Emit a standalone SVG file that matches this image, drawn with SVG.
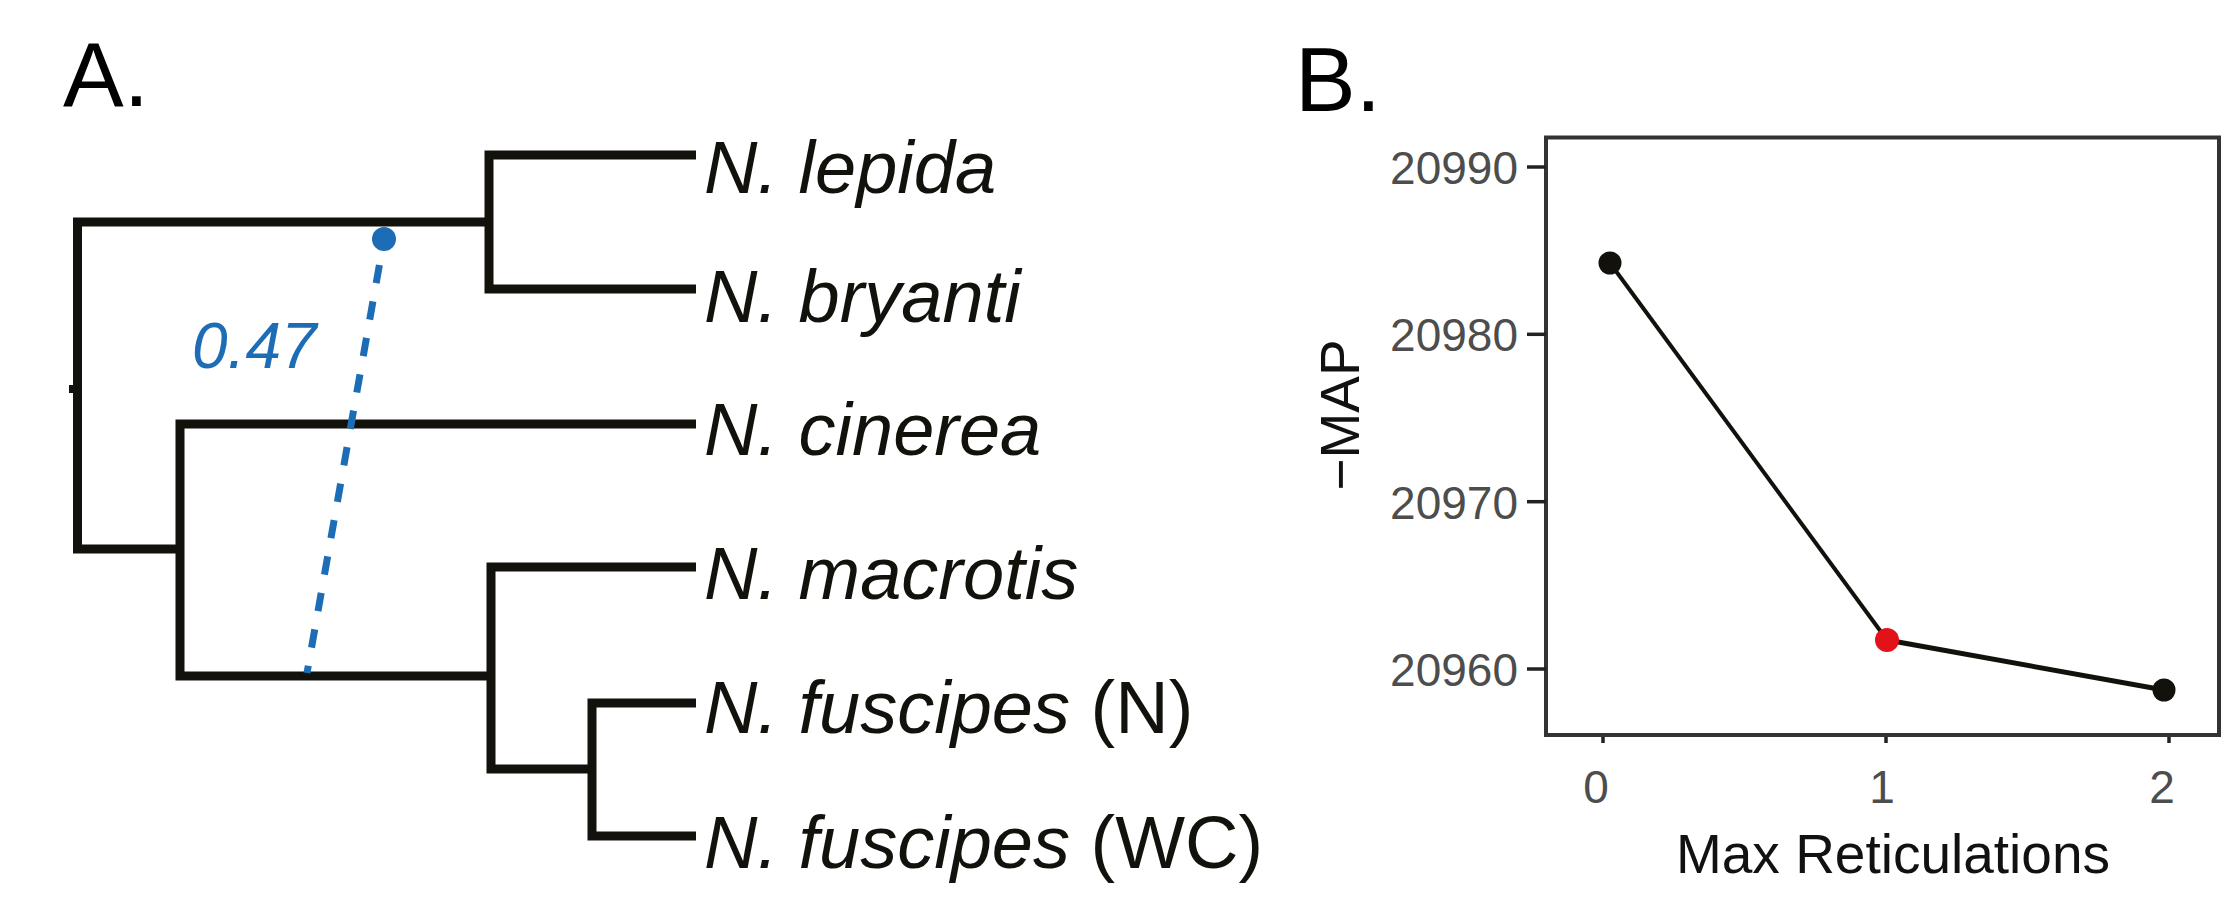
<svg xmlns="http://www.w3.org/2000/svg" width="2231" height="914" viewBox="0 0 2231 914">
<style>
.tree{fill:none;stroke:#12110c;stroke-width:9;stroke-linejoin:miter;stroke-linecap:butt}
.tip{font-family:"Liberation Sans",Arial,Helvetica,sans-serif;font-size:74px;fill:#12110c}
.it{font-style:italic}
.panel{font-family:"Liberation Sans",Arial,Helvetica,sans-serif;font-size:91px;fill:#000}
.tick{font-family:"Liberation Sans",Arial,Helvetica,sans-serif;font-size:46px;fill:#4d4d4d}
.axis{font-family:"Liberation Sans",Arial,Helvetica,sans-serif;font-size:55px;fill:#111}
.tk{stroke:#222;stroke-width:3.5}
</style>
<rect width="2231" height="914" fill="#fff"/>
<g id="panel-labels">
<text class="panel" x="63" y="106">A.</text>
<text class="panel" x="1295" y="111">B.</text>
</g>
<g id="tree-edges">
<path class="tree" d="M696,155 H489 V289 H696"/>
<path class="tree" d="M489,222 H77.5 V549 H180"/>
<path class="tree" d="M696,424 H180 V676 H491"/>
<path class="tree" d="M696,567 H491 V769 H592"/>
<path class="tree" d="M696,703 H592 V836 H696"/>
<rect x="69" y="385" width="6" height="8" fill="#12110c"/>
</g>
<g id="reticulation">
<line x1="379.4" y1="265" x2="307" y2="673" stroke="#1c6db6" stroke-width="7" stroke-dasharray="18.5 18.5"/>
<circle cx="384" cy="239" r="12" fill="#1c6db6"/>
<text x="192" y="368" font-family="Liberation Sans, Arial, sans-serif" font-size="64" font-style="italic" fill="#1c6db6">0.47</text>
</g>
<g id="tip-labels">
<text class="tip it" x="704" y="193">N. lepida</text>
<text class="tip it" x="704" y="322">N. bryanti</text>
<text class="tip it" x="704" y="455">N. cinerea</text>
<text class="tip it" x="704" y="599">N. macrotis</text>
<text class="tip" x="704" y="733"><tspan class="it">N. fuscipes</tspan> (N)</text>
<text class="tip" x="704" y="868"><tspan class="it">N. fuscipes</tspan> (WC)</text>
</g>
<g id="plot-frame">
<rect x="1546" y="137.5" width="673" height="597.5" fill="none" stroke="#333" stroke-width="4"/>
</g>
<g id="y-axis">
<line class="tk" x1="1527" y1="167" x2="1546" y2="167"/>
<line class="tk" x1="1527" y1="334.3" x2="1546" y2="334.3"/>
<line class="tk" x1="1527" y1="501.7" x2="1546" y2="501.7"/>
<line class="tk" x1="1527" y1="669" x2="1546" y2="669"/>
<text class="tick" x="1518" y="183.5" text-anchor="end">20990</text>
<text class="tick" x="1518" y="351" text-anchor="end">20980</text>
<text class="tick" x="1518" y="518.5" text-anchor="end">20970</text>
<text class="tick" x="1518" y="685.5" text-anchor="end">20960</text>
<text class="axis" transform="translate(1359,415) rotate(-90)" text-anchor="middle" font-size="57">−MAP</text>
</g>
<g id="x-axis">
<line class="tk" x1="1603" y1="737" x2="1603" y2="743"/>
<line class="tk" x1="1886" y1="737" x2="1886" y2="743"/>
<line class="tk" x1="2169" y1="737" x2="2169" y2="743"/>
<text class="tick" x="1596" y="803" text-anchor="middle">0</text>
<text class="tick" x="1882" y="803" text-anchor="middle">1</text>
<text class="tick" x="2162" y="803" text-anchor="middle">2</text>
<text class="axis" x="1893" y="873" text-anchor="middle">Max Reticulations</text>
</g>
<g id="connectors">
<line x1="1610" y1="263" x2="1887" y2="640" stroke="#12110c" stroke-width="4"/>
<line x1="1887" y1="640" x2="2164" y2="690" stroke="#12110c" stroke-width="5"/>
</g>
<g id="point-0"><circle cx="1610" cy="263" r="11.5" fill="#12110c"/></g>
<g id="point-1"><circle cx="1887" cy="640" r="12" fill="#e3121a"/></g>
<g id="point-2"><circle cx="2164" cy="690" r="11.5" fill="#12110c"/></g>
</svg>
